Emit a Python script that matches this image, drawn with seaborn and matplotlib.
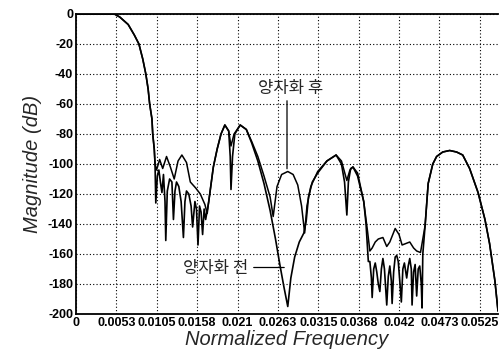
import numpy as np
import pandas as pd
import matplotlib
matplotlib.use("Agg")
import matplotlib.pyplot as plt
import seaborn as sns

# passband + transition (same for both responses)
freq_pass = [0.0, 0.0050, 0.0057, 0.0068, 0.0076, 0.0082, 0.0087, 0.0091, 0.0094,
             0.0096, 0.0099, 0.0100, 0.0102, 0.0103]
mag_pass = [0, 0, -2, -7, -14, -20, -30, -40, -50, -60, -70, -80, -90, -100]

# last lobe (same for both)
freq_last = [0.0459, 0.0465, 0.0470, 0.0478, 0.0487, 0.0496, 0.0504, 0.0513,
             0.0524, 0.0533, 0.0539, 0.0546, 0.0550]
mag_last = [-113, -100, -95, -92, -91, -92, -94, -103, -119, -137, -153, -178, -198]

# after quantization
freq_after = [0.0105, 0.0109, 0.0113, 0.0118, 0.0123, 0.0128, 0.0133, 0.0138, 0.0144,
              0.0149, 0.0156, 0.0162, 0.0168, 0.0171,
              0.0173, 0.0179, 0.0184, 0.0189, 0.0194, 0.0199, 0.0202, 0.0206, 0.0214,
              0.0222, 0.0229, 0.0237, 0.0245, 0.0253, 0.0257,
              0.0262, 0.0268, 0.0276, 0.0283, 0.0289, 0.0294, 0.0298,
              0.0301, 0.0306, 0.0315, 0.0327, 0.0339, 0.0346, 0.0353, 0.0357, 0.0361,
              0.0367, 0.0375, 0.0380,
              0.0383, 0.0386, 0.0390, 0.0394, 0.0400, 0.0405, 0.0409, 0.0416, 0.0421,
              0.0425, 0.0430, 0.0435, 0.0440, 0.0444, 0.0449, 0.0452, 0.0455]
mag_after = [-104, -97, -103, -95, -102, -110, -98, -94, -99,
             -112, -116, -120, -127, -133,
             -125, -102, -90, -80, -74, -78, -88, -80, -74,
             -77, -85, -95, -108, -122, -135,
             -115, -107, -105, -107, -114, -128, -146,
             -128, -115, -105, -98, -94, -98, -111, -104, -102,
             -106, -125, -145,
             -158, -156, -152, -150, -149, -155, -152, -143, -147,
             -154, -153, -152, -156, -158, -159, -150, -141]

# before quantization
freq_before = [0.0104, 0.0106, 0.0108, 0.0110, 0.0112, 0.0114, 0.0116, 0.0117, 0.0119,
               0.0122, 0.0125, 0.0127, 0.0129, 0.0131, 0.0134, 0.0137, 0.0140, 0.0142,
               0.0144, 0.0147, 0.0150, 0.0152, 0.0155, 0.0157, 0.0159, 0.0161, 0.0163,
               0.0165, 0.0167, 0.0169, 0.0171,
               0.0173, 0.0179, 0.0184, 0.0189, 0.0194, 0.0199, 0.0201, 0.0202, 0.0204,
               0.0207, 0.0214, 0.0222, 0.0229, 0.0237, 0.0245, 0.0253, 0.0260, 0.0266,
               0.0271, 0.0276, 0.0280, 0.0285, 0.0291, 0.0297, 0.0300, 0.0303, 0.0308,
               0.0315, 0.0327, 0.0339, 0.0346, 0.0350, 0.0353, 0.0355, 0.0358, 0.0361,
               0.0367, 0.0375, 0.0378,
               0.0381, 0.0383, 0.0385, 0.0386, 0.0388, 0.0390, 0.0392, 0.0394, 0.0396,
               0.0398, 0.0400, 0.0402, 0.0405, 0.0407, 0.0409, 0.0411, 0.0412, 0.0414,
               0.0416, 0.0418, 0.0420, 0.0422, 0.0424, 0.0426, 0.0428, 0.0431, 0.0433,
               0.0435, 0.0437, 0.0438, 0.0440, 0.0442, 0.0444, 0.0446, 0.0448, 0.0450,
               0.0451, 0.0452, 0.0455]
mag_before = [-126, -108, -104, -112, -119, -107, -125, -151, -118,
              -110, -112, -137, -118, -112, -115, -125, -149, -125,
              -118, -120, -128, -142, -125, -130, -154, -128, -132,
              -147, -130, -137, -131,
              -125, -102, -90, -80, -74, -78, -95, -117, -95,
              -80, -74, -77, -86, -98, -113, -131, -150, -168,
              -182, -195, -176, -162, -152, -146, -138, -122, -112,
              -106, -98, -94, -100, -112, -134, -112, -103, -102,
              -108, -125, -140,
              -165, -165, -176, -189, -170, -166, -172, -180, -185,
              -170, -163, -170, -194, -175, -168, -178, -193, -172,
              -162, -161, -165, -178, -192, -170, -166, -176, -168,
              -163, -170, -194, -172, -167, -188, -170, -168, -180,
              -196, -160, -141]

xtick_labels = ["0", "0.0053", "0.0105", "0.0158", "0.021", "0.0263", "0.0315",
                "0.0368", "0.042", "0.0473", "0.0525"]

after = pd.DataFrame({"f": freq_pass + freq_after + freq_last,
                      "m": mag_pass + mag_after + mag_last})
before = pd.DataFrame({"f": freq_pass + freq_before + freq_last,
                       "m": mag_pass + mag_before + mag_last})

sns.set_style("white")
plt.rcParams["font.family"] = ["Liberation Sans", "DejaVu Sans"]
plt.rcParams["axes.unicode_minus"] = False

fig = plt.figure(figsize=(4.99, 3.53), dpi=100)
ax = fig.add_axes([76 / 499, 1 - 314 / 353, 422 / 499, 300 / 353])

sns.lineplot(data=before, x="f", y="m", ax=ax, color="black", lw=1.2,
             estimator=None, sort=False)
sns.lineplot(data=after, x="f", y="m", ax=ax, color="black", lw=1.1,
             estimator=None, sort=False)

ax.set_xlim(0, 0.055)
ax.set_ylim(-200, 0)
ax.set_xticks([k / 190 for k in range(11)])
ax.set_xticklabels(xtick_labels)
ax.set_yticks(range(-200, 1, 20))
ax.tick_params(direction="in", length=3, width=0.8, labelsize=9, pad=2, colors="black")
for lbl in ax.get_xticklabels() + ax.get_yticklabels():
    lbl.set_fontweight("bold")
ax.grid(True, color="black", linestyle=(0, (1, 2)), linewidth=0.8)
for side in ["left", "bottom", "top"]:
    ax.spines[side].set_color("black")
    ax.spines[side].set_linewidth(1.3)
ax.spines["right"].set_visible(False)

ax.set_xlabel("Normalized Frequency", fontsize=14.5, style="italic", labelpad=1)
ax.set_ylabel("Magnitude (dB)", fontsize=14.5, style="italic", labelpad=4)

kfont = ["Noto Sans CJK KR", "DejaVu Sans"]
ax.text(0.0280, -50, "양자화 후", family=kfont, fontsize=12, ha="center", va="center")
ax.annotate("", xy=(0.0275, -105), xytext=(0.0275, -56),
            arrowprops=dict(arrowstyle="-", color="black", lw=0.9))
ax.text(0.0225, -170, "양자화 전", family=kfont, fontsize=12, ha="right", va="center")
ax.annotate("", xy=(0.0275, -169), xytext=(0.0228, -169),
            arrowprops=dict(arrowstyle="-", color="black", lw=0.9))

fig.savefig("out.png", dpi=100)
